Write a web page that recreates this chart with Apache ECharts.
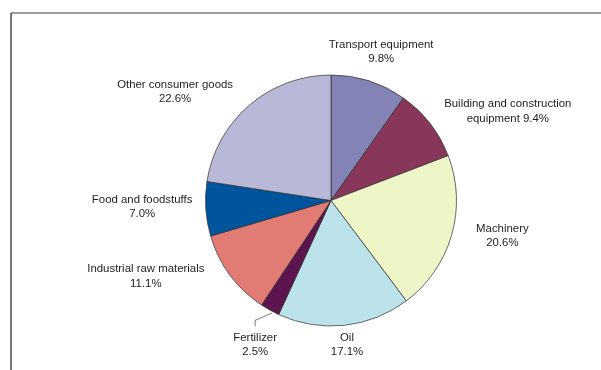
<!DOCTYPE html>
<html>
<head>
<meta charset="utf-8">
<style>
  html, body { margin: 0; padding: 0; background: #ffffff; }
  #chart { width: 601px; height: 370px; }
</style>
<script src="https://cdn.jsdelivr.net/npm/echarts@6/dist/echarts.min.js"></script>
</head>
<body>
<div id="chart"></div>
<script>
// Import shares by category, clockwise from twelve o'clock
const categories = [
  'Transport equipment',
  'Building and construction\nequipment',
  'Machinery',
  'Oil',
  'Fertilizer',
  'Industrial raw materials',
  'Food and foodstuffs',
  'Other consumer goods'
];
const shares = [9.8, 9.4, 20.6, 17.1, 2.5, 11.1, 7.0, 22.6];

// Slice fills
const sliceColors = ['#8384b5', '#88375b', '#eef6c7', '#bce3ea', '#5d1550', '#e37b75', '#00549c', '#b8b9d6'];

// Label placement around the pie: distance from the centre and a small
// angular shift (degrees) away from each slice's mid-angle
const labelDist = [157, 198, 175, 145, 163, 200, 189, 190];
const labelShift = [1.0, 11.1, -4.4, -0.2, -1.4, 14.2, 1.9, -14.5];

const CX = 331, CY = 200.5, R = 125.5;

const total = shares.reduce((a, b) => a + b, 0);
const midAngles = [];
let acc = 0;
shares.forEach(v => { midAngles.push((acc + v / 2) / total * 360); acc += v; });

function polar(angleDeg, dist) {
  const a = angleDeg * Math.PI / 180;
  return [CX + dist * Math.sin(a), CY - dist * Math.cos(a)];
}

const chart = echarts.init(document.getElementById('chart'), null, { renderer: 'canvas' });

const data = categories.map((name, i) => ({
  name: name,
  value: shares[i],
  itemStyle: { color: sliceColors[i] },
  labelLine: { show: name === 'Fertilizer' }
}));

chart.setOption({
  animation: false,
  backgroundColor: '#ffffff',
  graphic: [
    { type: 'line', shape: { x1: 11, y1: 13, x2: 601, y2: 13 }, style: { stroke: '#7a7a7a', lineWidth: 1.6 } },
    { type: 'line', shape: { x1: 11, y1: 13, x2: 11, y2: 370 }, style: { stroke: '#1c1c1c', lineWidth: 1.2 } }
  ],
  series: [{
    type: 'pie',
    center: [CX, CY],
    radius: [0, R],
    startAngle: 90,
    clockwise: true,
    avoidLabelOverlap: false,
    data: data,
    itemStyle: { borderColor: '#2e2e2e', borderWidth: 0.7 },
    label: {
      show: true,
      position: 'outside',
      fontFamily: 'Liberation Sans, Arial, sans-serif',
      fontSize: 11.4,
      lineHeight: 14.5,
      color: '#1e1e1e',
      align: 'center',
      formatter: p => {
        const pct = p.value.toFixed(1) + '%';
        return p.name.indexOf('\n') >= 0 ? p.name + ' ' + pct : p.name + '\n' + pct;
      }
    },
    labelLine: {
      show: false,
      lineStyle: { color: '#555555', width: 0.8 }
    },
    labelLayout: params => {
      const i = params.dataIndex;
      const pos = polar(midAngles[i] + labelShift[i], labelDist[i]);
      const out = { x: pos[0], y: pos[1], align: 'center', verticalAlign: 'middle' };
      if (categories[i] === 'Fertilizer') {
        const top = pos[1] - params.labelRect.height / 2;
        const start = polar(midAngles[i] - 1.5, R + 1.5);
        out.labelLinePoints = [start, [pos[0], top - 10], [pos[0], top - 4]];
      }
      return out;
    }
  }]
});
</script>
</body>
</html>
